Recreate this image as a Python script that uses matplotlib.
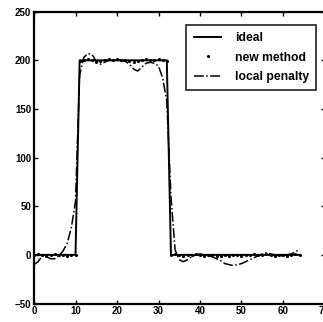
import matplotlib
matplotlib.use("Agg")
import matplotlib.pyplot as plt
import numpy as np

plt.rcParams["font.family"] = ["Liberation Sans", "DejaVu Sans"]
plt.rcParams["font.weight"] = "bold"

x = np.arange(0, 65)
ideal = np.where((x >= 11) & (x <= 32), 200, 0)

new_method = ideal + np.array([
    0, 1, 0, -1, 0, 1, 0, 0, -1, 0, 0,
    -1, 0, 1, 0, -2, -1, 0, 1, 0, 1, 0, 0, -1, -2, -1, 0, 1, 0, 0, 1, 0,
    -1, 0, 1, 0, -1, 0, 0, 1, 0, -1, 0, 0, -1, -1, 0, -1, 0, 0, -1, 0, 0,
    1, 0, 0, 1, 0, -1, 0, 0, -1, 0, 1, 0,
])

local_penalty = np.array([
    -10, -7, -1, -2, -4, -4, -1, 4, 12, 28, 55,
    185, 203, 207, 206, 199, 196, 198, 200, 200, 200, 200, 199, 196, 191, 189,
    193, 197, 198, 197, 194, 182, 158,
    60, 5, -5, -7, -5, -2, 0, 1, 0, -1, -2, -4, -6, -9, -10, -11, -10, -9,
    -7, -5, -3, -1, 1, 2, 1, 0, -1, -1, 0, 1, 3, 6,
])

xticks = [0, 10, 20, 30, 40, 50, 60, 70]
yticks = [-50, 0, 50, 100, 150, 200, 250]

fig = plt.figure(figsize=(3.23, 3.22), dpi=100)
ax = fig.add_axes([34 / 323, 18.5 / 322, 290.5 / 323, 291.8 / 322])

ax.plot(x, ideal, color="black", linewidth=1.4, label="ideal")
ax.plot(x, new_method, linestyle="none", marker=".", markersize=2.5,
        color="black", label="new method")
ax.plot(x, local_penalty, color="black", linestyle="-.", linewidth=1.1,
        label="local penalty")

ax.set_xlim(0, 70)
ax.set_ylim(-50, 250)
ax.set_xticks(xticks)
ax.set_yticks(yticks)
ax.tick_params(direction="in", length=3, width=1, top=True, right=True,
               labelsize=7, pad=2)
for s in ax.spines.values():
    s.set_linewidth(1.6)

leg = ax.legend(loc="upper right", bbox_to_anchor=(0.971, 0.954),
                fontsize=8.7, frameon=True, fancybox=False, edgecolor="black",
                handlelength=2.3, borderpad=0.6, labelspacing=0.6,
                handletextpad=1.1, borderaxespad=0)
leg.get_frame().set_linewidth(1.3)

fig.savefig("out.png", dpi=100)
